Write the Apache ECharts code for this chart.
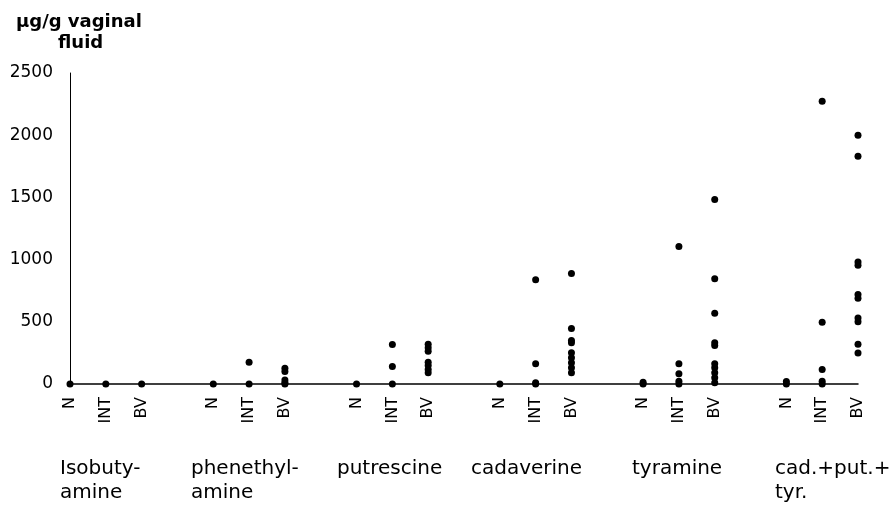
<!DOCTYPE html>
<html>
<head>
<meta charset="utf-8">
<script src="https://cdn.jsdelivr.net/npm/echarts@6/dist/echarts.min.js"></script>
<style>html,body{margin:0;padding:0;background:#fff}#c{width:891px;height:518px}</style>
</head>
<body>
<div id="c"></div>
<script>
const groupNames = ['Isobuty-\namine', 'phenethyl-\namine', 'putrescine', 'cadaverine', 'tyramine', 'cad.+put.+\ntyr.'];
const subgroups = ['N', 'INT', 'BV'];
const nValues = [[0], [0], [0], [0], [0, 15], [0, 20]];
const intValues = [[0], [0, 175], [0, 140, 318], [0, 10, 162, 838], [0, 23, 82, 162, 1105], [0, 23, 117, 497, 2273]];
const bvValues = [[0], [0, 10, 32, 100, 126], [90, 117, 149, 175, 264, 291, 319], [90, 130, 170, 211, 251, 331, 350, 446, 888], [10, 50, 90, 130, 162, 309, 331, 569, 846, 1483], [250, 320, 500, 530, 690, 720, 955, 980, 1830, 2000]];
const yTicks = [0, 500, 1000, 1500, 2000, 2500];
const groupLabelLeft = [60, 191, 337, 471, 632, 775];

const cats = [];
groupNames.forEach((g, i) => {
  subgroups.forEach(s => cats.push(s));
  if (i < groupNames.length - 1) cats.push('');
});
const points = [];
const bySub = [nValues, intValues, bvValues];
groupNames.forEach((g, gi) => {
  bySub.forEach((arr, si) => {
    arr[gi].forEach(v => points.push([gi * 4 + si, v]));
  });
});

const font = 'DejaVu Sans';
const chart = echarts.init(document.getElementById('c'));
chart.setOption({
  animation: false,
  backgroundColor: '#fff',
  grid: { left: 70, right: 33, top: 73, bottom: 134 },
  xAxis: {
    type: 'category', data: cats, boundaryGap: false,
    axisLine: { lineStyle: { color: '#000', width: 1.5 } },
    axisTick: { show: false },
    axisLabel: { interval: 0, rotate: 90, margin: 13, color: '#000', fontFamily: font, fontSize: 16 },
    splitLine: { show: false }
  },
  yAxis: {
    type: 'value', min: yTicks[0], max: yTicks[yTicks.length - 1], interval: 500,
    axisLine: { show: true, lineStyle: { color: '#000', width: 1 } },
    axisTick: { show: false },
    axisLabel: { margin: 17, color: '#000', fontFamily: font, fontSize: 17, formatter: v => String(v) },
    splitLine: { show: false }
  },
  series: [{
    type: 'scatter', data: points, symbol: 'circle', symbolSize: 7,
    itemStyle: { color: '#000', opacity: 1 }
  }],
  graphic: [
    { type: 'text', left: 16, top: 13, style: { text: 'µg/g vaginal', font: 'bold 18px "DejaVu Sans"', fill: '#000' } },
    { type: 'text', left: 58, top: 34, style: { text: 'fluid', font: 'bold 18px "DejaVu Sans"', fill: '#000' } }
  ].concat(groupNames.map((g, i) => ({
    type: 'text', left: groupLabelLeft[i], top: 457,
    style: { text: g, font: '20px "DejaVu Sans"', fill: '#000', lineHeight: 24 }
  })))
});
</script>
</body>
</html>
